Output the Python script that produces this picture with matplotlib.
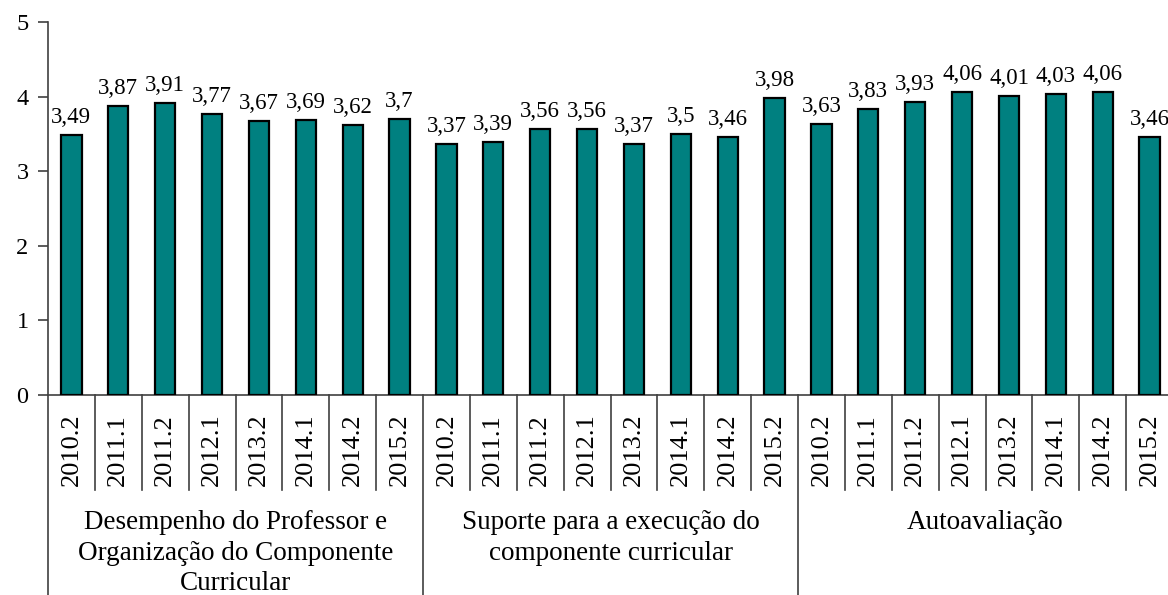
import matplotlib
matplotlib.use("Agg")
import matplotlib.pyplot as plt

plt.rcParams['font.family'] = ['Liberation Serif', 'DejaVu Serif']

periods = ["2010.2", "2011.1", "2011.2", "2012.1", "2013.2", "2014.1", "2014.2", "2015.2"]
groups = ["Desempenho do Professor e\nOrganização do Componente\nCurricular",
          "Suporte para a execução do\ncomponente curricular",
          "Autoavaliação"]
desempenho = [3.49, 3.87, 3.91, 3.77, 3.67, 3.69, 3.62, 3.70]
suporte = [3.37, 3.39, 3.56, 3.56, 3.37, 3.50, 3.46, 3.98]
autoavaliacao = [3.63, 3.83, 3.93, 4.06, 4.01, 4.03, 4.06, 3.46]

values = desempenho + suporte + autoavaliacao
labels = periods * 3
n = len(values)
xs = list(range(n))

W, H = 1168, 595
fig = plt.figure(figsize=(W / 100, H / 100), dpi=100)
ax_left, ax_right, ax_bottom, ax_top = 48, 1173, 395, 22
ax = fig.add_axes([ax_left / W, (H - ax_bottom) / H, (ax_right - ax_left) / W, (ax_bottom - ax_top) / H])
ax_h = ax_bottom - ax_top

axis_color = '#404040'
ax.bar(xs, values, width=0.43, color='#008080', edgecolor='black', linewidth=1.6, zorder=3)
ax.set_xlim(-0.5, n - 0.5)
ax.set_ylim(0, 5)
ax.set_yticks([0, 1, 2, 3, 4, 5])
ax.tick_params(axis='y', direction='out', length=7, width=1.2, color=axis_color, labelsize=17.5, pad=7)
ax.set_xticks([])
for s in ['top', 'right']:
    ax.spines[s].set_visible(False)
ax.spines['left'].set_visible(False)
ax.spines['bottom'].set_color(axis_color)
ax.spines['bottom'].set_linewidth(1.2)

for x, v in zip(xs, values):
    txt = f"{v:.2f}".rstrip('0').rstrip('.').replace('.', ',')
    ax.annotate(txt, xy=(x, v), xytext=(0, 5), textcoords='offset points',
                ha='center', va='bottom', fontsize=16.5, zorder=4)

trans = ax.get_xaxis_transform()
for x, lab in zip(xs, labels):
    ax.text(x, -55 / ax_h, lab, transform=trans, rotation=90, ha='center', va='center',
            fontsize=19, clip_on=False)

# separators
for i in range(n + 1):
    xpos = i - 0.5
    if i % 8 == 0:
        y0 = 1.0 if i == 0 else 0.0
        y1 = -(H - ax_bottom + 5) / ax_h
    else:
        y0, y1 = 0.0, -95 / ax_h
    ax.plot([xpos, xpos], [y0, y1], transform=trans, color=axis_color, lw=1.2, clip_on=False, zorder=5)

for g, name in enumerate(groups):
    cx = g * 8 + 3.5
    ax.text(cx, -115 / ax_h, name, transform=trans, ha='center', va='top', fontsize=19.5,
            linespacing=1.3, clip_on=False)

fig.savefig("out.png", dpi=100)
